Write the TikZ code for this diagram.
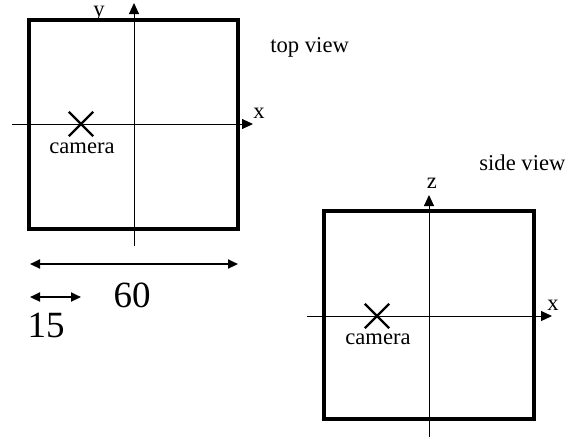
\documentclass[tikz,border=0pt]{standalone}
\usepackage{fontspec}
\setmainfont{Liberation Serif}
\usetikzlibrary{arrows.meta,positioning,shapes.misc}

\begin{document}
\begin{tikzpicture}[x=0.5pt,y=-0.5pt]
\tikzset{
  roombox/.style={draw,line width=1.7pt},
  axis/.style={-{Triangle[length=5.5pt,width=5pt]},line width=0.5pt},
  dimline/.style={{Triangle[length=5pt,width=4.5pt]}-{Triangle[length=5pt,width=4.5pt]},line width=1pt},
  txt/.style={font=\fontsize{11.3}{13}\selectfont,inner sep=0pt},
  bignum/.style={font=\fontsize{18.5}{21}\selectfont,inner sep=0pt},
  camcross/.style={draw,cross out,line width=1.2pt,minimum size=11pt,inner sep=0pt}
}
\useasboundingbox (0,0) rectangle (565,441);
% top view
\draw[roombox] (29,20) rectangle (238,229);
\coordinate (t_ybot) at (134,246);
\coordinate (t_ytop) at (134,3);
\coordinate (t_xleft) at (12,124);
\coordinate (t_xright) at (253,124);
\draw[axis] (t_ybot) -- (t_ytop);
\draw[axis] (t_xleft) -- (t_xright);
\node[camcross] (t_cam) at (81,124) {};
\node[txt,anchor=base] (t_camlbl) at (82,153) {camera};
\node[txt,anchor=base] (t_ylbl) at (99,16) {y};
\node[txt,anchor=base] (t_xlbl) at (259,118) {x};
\node[txt,anchor=base west] (t_title) at (270,52) {top view};
% dimensions
\coordinate (d60_l) at (30,264);
\coordinate (d60_r) at (238,264);
\draw[dimline] (d60_l) -- (d60_r);
\node[bignum,anchor=base] (d60_lbl) at (132,307) {60};
\coordinate (d15_l) at (30,297);
\coordinate (d15_r) at (81,297);
\draw[dimline] (d15_l) -- (d15_r);
\node[bignum,anchor=base] (d15_lbl) at (46,337) {15};
% side view
\draw[roombox] (324,211) rectangle (534,419);
\coordinate (s_zbot) at (429,437);
\coordinate (s_ztop) at (429,195);
\coordinate (s_xleft) at (307,316);
\coordinate (s_xright) at (552,316);
\draw[axis] (s_zbot) -- (s_ztop);
\draw[axis] (s_xleft) -- (s_xright);
\node[camcross] (s_cam) at (377,316) {};
\node[txt,anchor=base] (s_camlbl) at (378,344) {camera};
\node[txt,anchor=base] (s_zlbl) at (432,188) {z};
\node[txt,anchor=base] (s_xlbl) at (553,310) {x};
\node[txt,anchor=base west] (s_title) at (479,170) {side view};
\end{tikzpicture}
\end{document}
